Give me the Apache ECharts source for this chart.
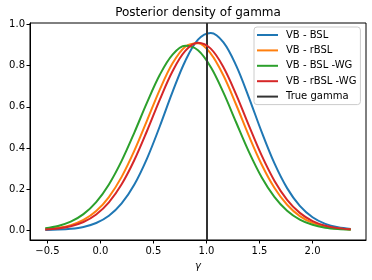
<!DOCTYPE html>
<html><head><meta charset="utf-8">
<script src="https://cdn.jsdelivr.net/npm/echarts@6/dist/echarts.min.js"></script>
<style>html,body{margin:0;padding:0;background:#fff}#c{width:372px;height:280px}</style>
</head><body><div id="c"></div>
<script>
// gamma grid (x values)
const gammaGrid = [-0.52,-0.40,-0.28,-0.16,-0.04,0.08,0.20,0.32,0.44,0.56,0.68,0.80,0.92,1.04,1.16,1.28,1.40,1.52,1.64,1.76,1.88,2.00,2.12,2.24,2.36];
// posterior densities
const vbBSL    = [0.0009,0.0025,0.0066,0.0157,0.0346,0.0699,0.1299,0.2221,0.3495,0.5055,0.6727,0.8233,0.9269,0.9597,0.9140,0.8007,0.6452,0.4781,0.3259,0.2044,0.1178,0.0625,0.0305,0.0137,0.0056];
const vbRBSL   = [0.0048,0.0112,0.0245,0.0495,0.0928,0.1611,0.2592,0.3865,0.5341,0.6839,0.8117,0.8927,0.9098,0.8594,0.7522,0.6102,0.4586,0.3196,0.2063,0.1234,0.0684,0.0352,0.0167,0.0074,0.0030];
const vbBSLWG  = [0.0093,0.0202,0.0411,0.0778,0.1364,0.2225,0.3372,0.4750,0.6216,0.7560,0.8543,0.8970,0.8754,0.7938,0.6689,0.5238,0.3811,0.2577,0.1619,0.0946,0.0513,0.0259,0.0121,0.0053,0.0021];
const vbRBSLWG = [0.0035,0.0085,0.0191,0.0395,0.0759,0.1352,0.2231,0.3412,0.4836,0.6352,0.7731,0.8721,0.9117,0.8833,0.7930,0.6598,0.5087,0.3635,0.2407,0.1477,0.0840,0.0443,0.0216,0.0098,0.0041];
const trueGamma = 1.0;
const seriesNames = ['VB - BSL','VB - rBSL','VB - BSL -WG','VB - rBSL -WG','True gamma'];
const xTicks = [-0.5,0.0,0.5,1.0,1.5,2.0];
const yTicks = [0.0,0.2,0.4,0.6,0.8,1.0];

const colors = ['#1f77b4','#ff7f0e','#2ca02c','#d62728','#333333'];
const font = 'DejaVu Sans';
const pairs = ys => gammaGrid.map((x,i)=>[x, ys[i]]);
const curves = [vbBSL, vbRBSL, vbBSLWG, vbRBSLWG];

const chart = echarts.init(document.getElementById('c'), null, {renderer:'canvas'});
const series = curves.map((ys,i)=>({
  name: seriesNames[i], type:'line', data: pairs(ys), smooth: 0.35,
  showSymbol:false, symbol:'none', color: colors[i],
  lineStyle:{width:2, color: colors[i]}, z: 2+i
}));
series.push({
  name: seriesNames[4], type:'line', data: [], color: colors[4],
  lineStyle:{width:2,color:colors[4]},
  markLine:{symbol:'none', silent:true, animation:false, label:{show:false},
    lineStyle:{color:colors[4], width:2, type:'solid'}, data:[{xAxis: trueGamma}]}
});

chart.setOption({
  animation:false,
  backgroundColor:'#fff',
  graphic:[{type:'text', x:198, y:13, style:{text:'Posterior density of gamma', textAlign:'center', textVerticalAlign:'middle', font:'12px "DejaVu Sans"', fill:'#000'}}],
  grid:{left:30, right:6, top:23, bottom:40, show:true, borderColor:'#000', borderWidth:1, backgroundColor:'transparent'},
  legend:{
    orient:'vertical', left:254, top:27, padding:[2,4,2,3], itemGap:3.4,
    itemWidth:21, itemHeight:2, icon:'rect',
    backgroundColor:'rgba(255,255,255,0.8)', borderColor:'#cccccc', borderWidth:1, borderRadius:3,
    textStyle:{fontFamily:font, fontSize:10, color:'#000', lineHeight:12, padding:[0,0,0,3]},
    data: seriesNames.map(n=>({name:n, icon:'rect'}))
  },
  xAxis:{
    type:'value', min:-0.664, max:2.504,
    name:'γ', nameLocation:'middle', nameGap:21,
    nameTextStyle:{fontFamily:font, fontSize:10, fontStyle:'italic', color:'#000'},
    axisLine:{show:true, onZero:false, lineStyle:{color:'#000', width:1}},
    axisTick:{show:true, length:3.5, customValues:xTicks, lineStyle:{color:'#000', width:1}},
    axisLabel:{customValues:xTicks, margin:6, fontFamily:font, fontSize:10, color:'#000',
      formatter:v=>(v<0?'\u2212':'')+Math.abs(v).toFixed(1)},
    splitLine:{show:false}
  },
  yAxis:{
    type:'value', min:-0.048, max:1.008,
    axisLine:{show:true, onZero:false, lineStyle:{color:'#000', width:1}},
    axisTick:{show:true, length:3.5, customValues:yTicks, lineStyle:{color:'#000', width:1}},
    axisLabel:{customValues:yTicks, margin:5, fontFamily:font, fontSize:10, color:'#000',
      formatter:v=>v.toFixed(1)},
    splitLine:{show:false}
  },
  series: series
});
</script>
</body></html>
